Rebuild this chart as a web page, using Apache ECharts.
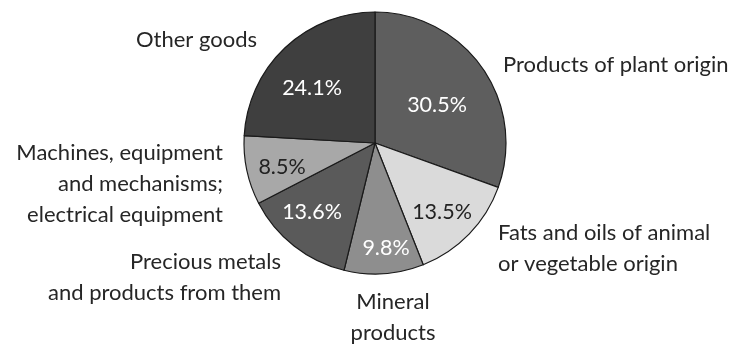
<!DOCTYPE html>
<html>
<head>
<meta charset="utf-8">
<script src="https://cdn.jsdelivr.net/npm/echarts@6/dist/echarts.min.js"></script>
<style>
html,body{margin:0;padding:0;background:#fff;}
#chart{width:734px;height:345px;}
</style>
</head>
<body>
<div id="chart"></div>
<script>
// Data
var categories = [
  "Products of plant origin",
  "Fats and oils of animal\nor vegetable origin",
  "Mineral\nproducts",
  "Precious metals\nand products from them",
  "Machines, equipment\nand mechanisms;\nelectrical equipment",
  "Other goods"
];
var values = [30.5, 13.5, 9.8, 13.6, 8.5, 24.1];

// Styles / layout
var colors = ["#5e5e5e", "#dadada", "#8e8e8e", "#5a5a5a", "#a8a8a8", "#3f3f3f"];
var pctColors = ["#ffffff", "#222222", "#ffffff", "#ffffff", "#222222", "#ffffff"];
var pctPos = [[437,105],[442,212],[386,248],[312,212],[282,167],[312,88]];
var namePos = [
  {x:503, y:65, align:"left"},
  {x:498, y:248, align:"left"},
  {x:393, y:317, align:"center"},
  {x:281, y:277, align:"right"},
  {x:223, y:184, align:"right"},
  {x:257, y:40, align:"right"}
];

var font = "Lato";
var chart = echarts.init(document.getElementById("chart"));
var data = categories.map(function(c, i){
  return {name: c, value: values[i], itemStyle: {color: colors[i]},
    label: {color: pctColors[i]}};
});
var pieBase = {
  type: "pie",
  center: [375, 143],
  radius: 131,
  startAngle: 90,
  clockwise: true,
  silent: true,
  animation: false,
  labelLine: {show: false}
};
chart.setOption({
  backgroundColor: "#fff",
  series: [
    Object.assign({}, pieBase, {
      data: data,
      itemStyle: {borderColor: "#1a1a1a", borderWidth: 1.2},
      label: {show: true, position: "inside", fontFamily: font, fontSize: 21.5,
        formatter: function(p){ return p.value.toFixed(1) + "%"; }},
      labelLayout: function(p){
        var q = pctPos[p.dataIndex];
        return {x: q[0], y: q[1], align: "center", verticalAlign: "middle"};
      }
    }),
    Object.assign({}, pieBase, {
      data: categories.map(function(c, i){ return {name: c, value: values[i]}; }),
      itemStyle: {color: "rgba(0,0,0,0)", borderWidth: 0},
      label: {show: true, position: "outside", fontFamily: font, fontSize: 22,
        color: "#262626", lineHeight: 31, formatter: "{b}", overflow: "none",
        width: 400},
      labelLayout: function(p){
        var q = namePos[p.dataIndex];
        return {x: q.x, y: q.y, align: q.align, verticalAlign: "middle"};
      }
    })
  ]
});
</script>
</body>
</html>
